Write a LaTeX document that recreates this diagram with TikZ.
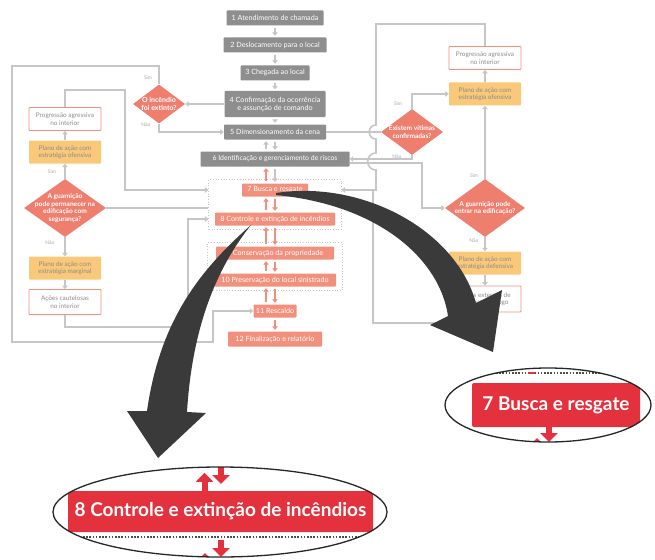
\documentclass[tikz,border=0pt]{standalone}
\usepackage{fontspec}
\setmainfont{Lato}
\usetikzlibrary{arrows.meta,shapes.geometric,fit}
\definecolor{cinzacaixa}{HTML}{8E8E8E}
\definecolor{salmao}{HTML}{F2907E}
\definecolor{losangocor}{HTML}{EE7E6E}
\definecolor{laranja}{HTML}{F9C879}
\definecolor{linhacor}{HTML}{C6C6C6}
\definecolor{textocinza}{HTML}{8C8C8C}
\definecolor{vermelho}{HTML}{E3323E}
\definecolor{escuro}{HTML}{3A3A3A}
\tikzset{
  etapa/.style={fill=cinzacaixa, text=white, inner sep=1pt, rounded corners=0.8pt,
    align=center, minimum height=15pt, font=\fontsize{7.2}{8}\selectfont},
  etapaverm/.style={etapa, fill=salmao, minimum height=13pt},
  plano/.style={fill=laranja, text=textocinza, inner sep=1pt, rounded corners=0.8pt,
    align=center, minimum width=72pt, minimum height=23pt, font=\fontsize{6.4}{7.4}\selectfont},
  acao/.style={plano, fill=white, draw=salmao, line width=0.8pt},
  decisao/.style={diamond, fill=losangocor, text=white, inner sep=-10pt, align=center,
    font=\fontsize{6.6}{7.6}\bfseries\selectfont},
  rotulo/.style={text=textocinza!75, font=\fontsize{5}{5.5}\selectfont},
  linha/.style={draw=linhacor, line width=1.6pt},
  seta/.style={linha, -{Triangle[width=5.5pt,length=3.5pt]}},
  passo/.style={seta, shorten <=2.5pt, shorten >=1.5pt},
  passoverm/.style={passo, draw=salmao},
  grupo/.style={draw=linhacor, dotted, line width=0.7pt, inner xsep=6pt, inner ysep=4pt},
  lupa/.style={ellipse, draw=black!85, line width=1.3pt, inner sep=0pt},
  faixa/.style={fill=vermelho, text=white, rounded corners=2pt, inner sep=0pt,
    font=\fontsize{19}{22}\bfseries\selectfont},
  setinha/.style={draw=vermelho, line width=6pt, -{Triangle[width=17pt,length=9pt]}},
  pontilhado/.style={draw=black!70, line width=1.6pt, dash pattern=on 1.6pt off 1.6pt}
}
\begin{document}
    \begin{tikzpicture}[x=1pt,y=-1pt]
        \useasboundingbox (0,0) rectangle (655,559);
        % Etapas centrais
        \node[etapa, minimum width=97pt] (b1) at (275,18) {1 Atendimento de chamada};
        \node[etapa, minimum width=103pt] (b2) at (275,45) {2 Deslocamento para o local};
        \node[etapa, minimum width=69pt] (b3) at (275,73) {3 Chegada ao local};
        \node[etapa, minimum width=101pt, minimum height=26pt] (b4) at (275,104) {4 Confirmação da ocorrência\\e assunção de comando};
        \node[etapa, minimum width=102pt] (b5) at (275,132) {5 Dimensionamento da cena};
        \node[etapa, minimum width=149pt, font=\fontsize{6.9}{8}\selectfont] (b6) at (275,159) {6 Identificação e gerenciamento de riscos};
        \node[etapaverm, minimum width=66pt] (b7) at (275,190) {7 Busca e resgate};
        \node[etapaverm, minimum width=120pt] (b8) at (275,219) {8 Controle e extinção de incêndios};
        \node[etapaverm, minimum width=118pt] (b9) at (275,253) {9 Conservação da propriedade};
        \node[etapaverm, minimum width=122pt] (b10) at (275,280) {10 Preservação do local sinistrado};
        \node[etapaverm, minimum width=43pt] (b11) at (275,311) {11 Rescaldo};
        \node[etapaverm, minimum width=94pt, minimum height=15pt] (b12) at (275,339) {12 Finalização e relatório};
        \node[grupo, fit=(b7)(b8)] (g1) {};
        \node[grupo, fit=(b9)(b10)] (g2) {};
        % Setas entre etapas
        \foreach \de/\para in {b1/b2,b2/b3,b3/b4,b4/b5,b5/b6,b6/b7}
            \draw[passo] (\de) -- (\para);
        \foreach \de/\para in {b7/b8,b8/b9,b9/b10,b10/b11,b11/b12}
            \draw[passoverm] (\de) -- (\para);
        \draw[passo] ([xshift=-9pt]b6.north) -- ([xshift=-9pt]b5.south);
        \foreach \de/\para in {b7/b6,b8/b7,b9/b8,b10/b9,b11/b10}
            \draw[passoverm] ([xshift=-9pt]\de.north) -- ([xshift=-9pt]\para.south);
        % Lado esquerdo
        \node[decisao, minimum width=52pt, minimum height=39pt, font=\fontsize{7}{8}\bfseries\selectfont] (d1) at (159,104) {O incêndio\\foi extinto?};
        \node[acao] (pe) at (65,119) {Progressão agressiva\\no interior};
        \node[plano] (oe) at (65,152) {Plano de ação com\\estratégia ofensiva};
        \node[decisao, minimum width=82pt, minimum height=58pt] (d2) at (65,208) {A guarnição\\pode permanecer na\\edificação com\\segurança?};
        \node[plano] (me) at (65,268) {Plano de ação com\\estratégia marginal};
        \node[acao, minimum height=25pt] (ac) at (65,302) {Ações cautelosas\\no interior};
        \node[rotulo] (simA) at (148,78) {Sim};
        \node[rotulo] (naoA) at (146,125) {Não};
        \node[rotulo] (simB) at (52,172) {Sim};
        \node[rotulo] (naoB) at (50,243) {Não};
        \coordinate (topoEsq) at (12,66);
        \coordinate (baseEsq) at (213,342);
        \coordinate (cantoPe) at (125,90);
        \coordinate (cantoAc) at (188,327);
        \draw[seta] (b4.west) -- (d1.east);
        \draw[seta] (d1.north) |- (topoEsq) |- (baseEsq) |- (b11.west);
        \draw[seta] (d1.south) |- (b5.west);
        \draw[seta] (oe) -- (pe);
        \draw[seta] (d2) -- (oe);
        \draw[seta] (d2) -- (me);
        \draw[seta] (me) -- (ac);
        \draw[seta] (pe.north) |- (cantoPe) |- (g1.west |- b7);
        \draw[linha] (d2.east) -- (d2.east -| g1.west);
        \draw[seta] (ac.south) |- (cantoAc) |- (g1.west |- b8);
        % Lado direito
        \node[decisao, minimum width=62pt, minimum height=46pt] (d3) at (412,132) {Existem vítimas\\confirmadas?};
        \node[acao] (pd) at (485,58) {Progressão agressiva\\no interior};
        \node[plano] (od) at (485,94) {Plano de ação com\\estratégia ofensiva};
        \node[decisao, minimum width=80pt, minimum height=58pt] (d4) at (485,208) {A guarnição pode\\entrar na edificação?};
        \node[plano] (dd) at (485,263) {Plano de ação com\\estratégia defensiva};
        \node[acao, minimum height=26pt] (ae) at (485,299) {Ações externas de\\combate ao fogo};
        \node[rotulo] (simC) at (398,104) {Sim};
        \node[rotulo] (naoC) at (397,157) {Não};
        \node[rotulo] (simD) at (474,176) {Sim};
        \node[rotulo] (naoD) at (474,241) {Não};
        \coordinate (topoDir) at (376,24);
        \coordinate (baseDir) at (373,323);
        \coordinate (cantoD4) at (422,208);
        \draw[linha] (b5.east) -- (d3.west);
        \draw[seta] (d3.north) |- (od.west);
        \draw[seta] (d3.south) |- (b6.east);
        \draw[seta] ([yshift=-4pt]b6.east) -| (cantoD4) -- (d4.west);
        \draw[seta] (pd.north) |- (topoDir) -- (376,125) .. controls (367,125) and (367,139) .. (376,139)
            -- (376,153) .. controls (365,153) and (365,170) .. (376,170) |- (g1.east |- b7);
        \draw[linha] (ae.south) |- (baseDir) -- (373,190);
        \draw[seta] (od) -- (pd);
        \draw[seta] (d4) -- (od);
        \draw[seta] (d4) -- (dd);
        \draw[seta] (dd) -- (ae);
        % Setas grandes
        \fill[escuro] (276,193) .. controls (360,180) and (455,228) .. (476,303)
            -- (502,290) -- (493,352) -- (430,325) -- (448,316)
            .. controls (440,260) and (380,205) .. (276,195) -- cycle;
        \fill[escuro] (251,225) .. controls (200,270) and (160,320) .. (147,411)
            -- (127,411) -- (158,458) -- (206,413) -- (187,412)
            .. controls (192,330) and (215,270) .. (251,225) -- cycle;
        % Detalhe da etapa 8
        \begin{scope}
            \clip (220,512) ellipse [x radius=167pt, y radius=45pt];
            \node[faixa, minimum width=305pt, minimum height=41pt] (z8) at (220.5,511.5) {8 Controle e extinção de incêndios};
            \draw[pontilhado] (83,537) -- (365,537);
            \draw[setinha] ([xshift=-16pt]z8.north) -- ++(0,-18);
            \draw[setinha] (221,460) -- (221,484);
            \draw[setinha] (221,540) -- (221,557);
            \draw[setinha] (205,568) -- (205,553);
        \end{scope}
        \node[lupa, minimum width=334pt, minimum height=90pt] (lupa8) at (220,512) {};
        % Detalhe da etapa 7
        \begin{scope}
            \clip (548,405) ellipse [x radius=103pt, y radius=37pt];
            \node[faixa, minimum width=168pt, minimum height=44pt] (z7) at (556,405) {7 Busca e resgate};
            \draw[pontilhado] (480,373) -- (627,373);
            \draw[draw=vermelho, line width=1.6pt] (528,373) -- (535,373);
            \draw[setinha] (549,425) -- (549,442);
            \draw[setinha] (537,452) -- (537,438);
        \end{scope}
        \node[lupa, minimum width=206pt, minimum height=74pt] (lupa7) at (548,405) {};
    \end{tikzpicture}
\end{document}
